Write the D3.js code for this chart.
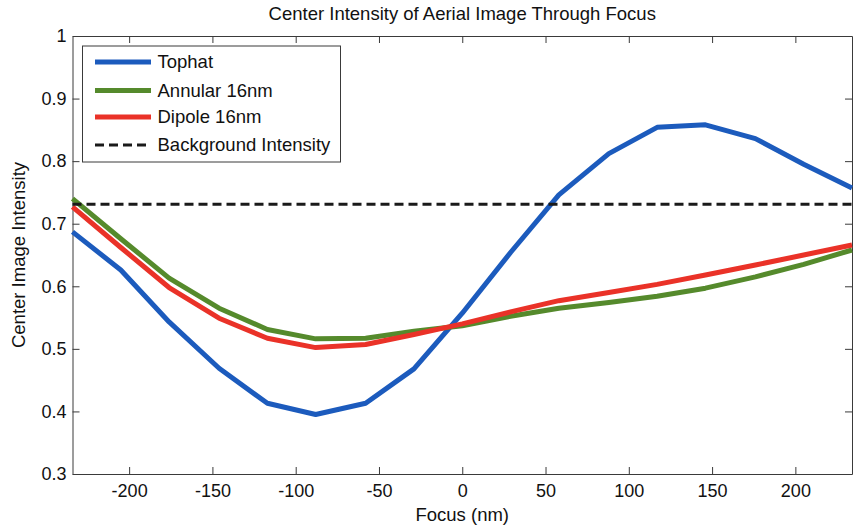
<!DOCTYPE html>
<html>
<head>
<meta charset="utf-8">
<script src="https://cdn.jsdelivr.net/npm/d3@7"></script>
<style>
  html, body { margin: 0; padding: 0; background: #ffffff; }
  svg { display: block; font-family: "Liberation Sans", Arial, sans-serif; }
</style>
</head>
<body>
<svg id="chart" width="857" height="527"></svg>
<script>
// Focus positions (nm)
const focus = [-234, -205, -176, -146, -117, -88, -58, -29, 0, 29, 58, 88, 117, 146, 176, 205, 234];

// Center intensity for each illumination
const tophat  = [0.687, 0.626, 0.543, 0.469, 0.413, 0.395, 0.413, 0.468, 0.557, 0.654, 0.746, 0.812, 0.854, 0.858, 0.836, 0.795, 0.757];
const annular = [0.740, 0.676, 0.613, 0.565, 0.531, 0.516, 0.517, 0.528, 0.537, 0.552, 0.565, 0.574, 0.584, 0.597, 0.615, 0.635, 0.658];
const dipole  = [0.727, 0.662, 0.598, 0.549, 0.517, 0.502, 0.507, 0.523, 0.540, 0.559, 0.577, 0.590, 0.603, 0.618, 0.634, 0.650, 0.666];
const background = 0.731;

const xTicks = [-200, -150, -100, -50, 0, 50, 100, 150, 200];
const yTicks = [0.3, 0.4, 0.5, 0.6, 0.7, 0.8, 0.9, 1];

const seriesNames = ["Tophat", "Annular 16nm", "Dipole 16nm", "Background Intensity"];

const svg = d3.select("#chart");
const plotL = 72.5, plotR = 852, plotT = 36, plotB = 474;

const x = d3.scaleLinear().domain([-234, 234]).range([plotL, plotR]);
const y = d3.scaleLinear().domain([0.3, 1]).range([plotB, plotT]);

const axisColor = "#3a3a3a";
const tickFont = 18;
const labelFont = 18.5;

// Title
svg.append("text")
  .attr("x", (plotL + plotR) / 2).attr("y", 19.5)
  .attr("text-anchor", "middle")
  .attr("font-size", labelFont).attr("fill", "#111")
  .text("Center Intensity of Aerial Image Through Focus");

// Axes with inward ticks on all four sides
const tickLen = 7;
const fmtX = d => String(d);                 // plain hyphen for negatives
const fmtY = d => String(+d.toFixed(1));

const gx = svg.append("g").attr("transform", `translate(0,${plotB})`)
  .call(d3.axisBottom(x).tickValues(xTicks).tickSizeInner(-tickLen).tickSizeOuter(0).tickPadding(10).tickFormat(fmtX));
const gxTop = svg.append("g").attr("transform", `translate(0,${plotT})`)
  .call(d3.axisTop(x).tickValues(xTicks).tickSizeInner(-tickLen).tickSizeOuter(0).tickFormat(""));
const gy = svg.append("g").attr("transform", `translate(${plotL},0)`)
  .call(d3.axisLeft(y).tickValues(yTicks).tickSizeInner(-tickLen).tickSizeOuter(0).tickPadding(6).tickFormat(fmtY));
const gyRight = svg.append("g").attr("transform", `translate(${plotR},0)`)
  .call(d3.axisRight(y).tickValues(yTicks).tickSizeInner(-tickLen).tickSizeOuter(0).tickFormat(""));

[gx, gxTop, gy, gyRight].forEach(g => {
  g.select(".domain").attr("stroke", axisColor).attr("stroke-width", 1);
  g.selectAll(".tick line").attr("stroke", axisColor).attr("stroke-width", 1);
  g.selectAll(".tick text").attr("font-size", tickFont).attr("fill", "#111")
    .attr("font-family", "Liberation Sans, Arial, sans-serif");
});

// Axis labels
svg.append("text")
  .attr("x", (plotL + plotR) / 2).attr("y", 521)
  .attr("text-anchor", "middle").attr("font-size", labelFont).attr("fill", "#111")
  .text("Focus (nm)");
svg.append("text")
  .attr("transform", `translate(25,${(plotT + plotB) / 2}) rotate(-90)`)
  .attr("text-anchor", "middle").attr("font-size", labelFont).attr("fill", "#111")
  .text("Center Image Intensity");

// Data lines
const line = d3.line().x(d => x(d[0])).y(d => y(d[1]));
const colors = ["#1c5bbd", "#558a2c", "#ea3228"];
const plot = svg.append("g");

[tophat, annular, dipole].forEach((vals, i) => {
  plot.append("path")
    .datum(focus.map((f, j) => [f, vals[j]]))
    .attr("fill", "none")
    .attr("stroke", colors[i])
    .attr("stroke-width", 5)
    .attr("stroke-linejoin", "round")
    .attr("d", line);
});

plot.append("path")
  .datum([[focus[0], background], [focus[focus.length - 1], background]])
  .attr("fill", "none")
  .attr("stroke", "#1a1a1a")
  .attr("stroke-width", 3)
  .attr("stroke-dasharray", "9,5")
  .attr("d", line);

// Legend
const lg = svg.append("g");
lg.append("rect")
  .attr("x", 82.5).attr("y", 46).attr("width", 258).attr("height", 116)
  .attr("fill", "#fff").attr("stroke", axisColor).attr("stroke-width", 1);

const rowY = [62, 90.5, 117, 145];
seriesNames.forEach((name, i) => {
  const ln = lg.append("line")
    .attr("x1", 95).attr("x2", 151)
    .attr("y1", rowY[i]).attr("y2", rowY[i]);
  if (i < 3) {
    ln.attr("stroke", colors[i]).attr("stroke-width", 5);
  } else {
    ln.attr("stroke", "#1a1a1a").attr("stroke-width", 3).attr("stroke-dasharray", "9,5");
  }
  lg.append("text")
    .attr("x", 157.5).attr("y", rowY[i])
    .attr("dy", "0.35em")
    .attr("font-size", labelFont).attr("fill", "#111")
    .text(name);
});
</script>
</body>
</html>
